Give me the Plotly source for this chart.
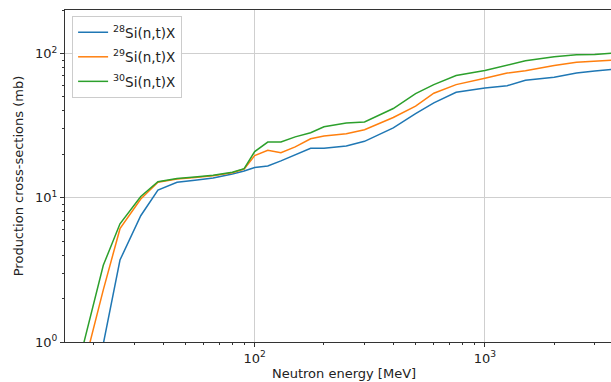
import plotly.graph_objects as go
import numpy as np

energy = [18, 22, 26, 32, 38, 46, 55, 66, 80, 90, 100, 114, 130, 150, 175, 200,
          250, 300, 400, 500, 600, 750, 1000, 1250, 1500, 2000, 2500, 3000, 4000]

si28 = [0.3, 0.97, 3.7, 7.5, 11.3, 12.8, 13.2, 13.7, 14.6, 15.3, 16.2, 16.6, 18.0, 19.8, 22.0, 22.0,
        22.8, 24.6, 30.5, 38.3, 45.4, 53.8, 57.7, 59.8, 65.2, 68.3, 73.1, 75.5, 79.0]
si29 = [0.65, 2.3, 6.1, 9.8, 12.8, 13.5, 13.8, 14.2, 14.9, 15.8, 19.6, 21.3, 20.5, 22.5, 25.6, 26.8,
        27.8, 29.6, 36.0, 43.1, 53.0, 60.8, 67.3, 73.1, 75.9, 82.6, 87.0, 88.5, 90.5]
si30 = [0.95, 3.4, 6.6, 10.2, 12.9, 13.6, 13.9, 14.3, 15.0, 15.9, 20.9, 24.3, 24.3, 26.4, 28.2, 31.0,
        33.0, 33.5, 41.5, 52.7, 60.8, 70.3, 76.2, 83.5, 89.0, 95.0, 98.0, 98.5, 101.5]

names = ["<sup>28</sup>Si(n,t)X", "<sup>29</sup>Si(n,t)X", "<sup>30</sup>Si(n,t)X"]
colors = ["#1f77b4", "#ff7f0e", "#2ca02c"]

x_ticks = [100, 1000]
x_ticktext = ["10<sup>2</sup>", "10<sup>3</sup>"]
y_ticks = [1, 10, 100]
y_ticktext = ["10<sup>0</sup>", "10<sup>1</sup>", "10<sup>2</sup>"]
x_minor = [20, 30, 40, 50, 60, 70, 80, 90, 200, 300, 400, 500, 600, 700, 800, 900, 2000, 3000]
y_minor = [2, 3, 4, 5, 6, 7, 8, 9, 20, 30, 40, 50, 60, 70, 80, 90, 200]

FONT = "DejaVu Sans"

fig = go.Figure()
for i, (ys, nm, c) in enumerate(zip([si28, si29, si30], names, colors)):
    fig.add_trace(go.Scatter(x=energy, y=ys, mode="lines", name=nm,
                             legendgroup=f"g{i}",
                             line=dict(color=c, width=1.5)))

fig.update_layout(
    width=611, height=382,
    margin=dict(l=65, r=0, t=10, b=40),
    paper_bgcolor="white", plot_bgcolor="white",
    font=dict(family=FONT, size=13, color="#222"),
    showlegend=True,
    legend=dict(x=0.013, y=0.982, xanchor="left", yanchor="top",
                traceorder="grouped", tracegroupgap=4,
                bgcolor="rgba(255,255,255,0.9)", bordercolor="#cccccc", borderwidth=1,
                font=dict(family=FONT, size=13.5, color="#222")),
)

fig.update_xaxes(
    type="log", range=[np.log10(15), np.log10(3530)],
    tickmode="array", tickvals=x_ticks, ticktext=x_ticktext,
    ticks="outside", ticklen=4, tickwidth=1, tickcolor="#333",
    showline=True, linecolor="#333", linewidth=1, mirror=True,
    showgrid=True, gridcolor="#cfcfcf", gridwidth=1,
    zeroline=False,
    minor=dict(tickmode="array", tickvals=x_minor, ticks="outside", ticklen=2,
               tickcolor="#333", showgrid=False),
    tickfont=dict(size=13),
)
fig.update_yaxes(
    type="log", range=[0, np.log10(200)],
    tickmode="array", tickvals=y_ticks, ticktext=y_ticktext,
    ticks="outside", ticklen=4, tickwidth=1, tickcolor="#333",
    showline=True, linecolor="#333", linewidth=1,
    showgrid=True, gridcolor="#cfcfcf", gridwidth=1,
    zeroline=False,
    minor=dict(tickmode="array", tickvals=y_minor, ticks="outside", ticklen=2,
               tickcolor="#333", showgrid=False),
    tickfont=dict(size=13),
    title=dict(text="Production cross-sections (mb)", font=dict(size=13), standoff=8),
)

fig.add_annotation(text="Neutron energy [MeV]", xref="paper", yref="paper",
                   x=(344 - 65) / 546, y=-0.12, xanchor="center", yanchor="bottom",
                   showarrow=False, borderpad=0,
                   font=dict(family=FONT, size=13, color="#222"))

fig.write_html("out.html")
